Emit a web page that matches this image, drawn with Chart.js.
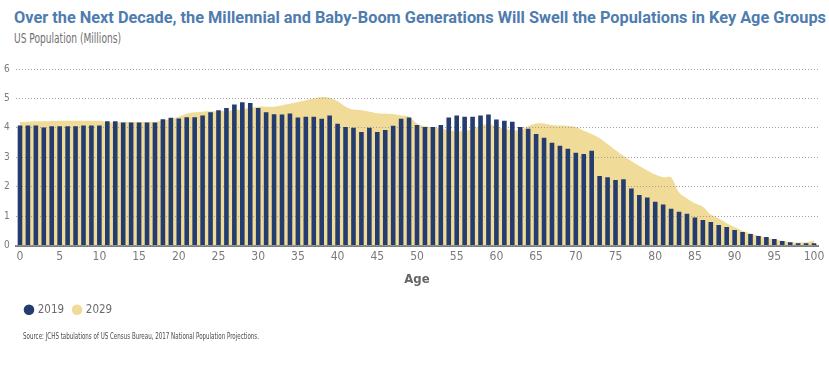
<!DOCTYPE html>
<html>
<head>
<meta charset="utf-8">
<script src="https://cdn.jsdelivr.net/npm/chart.js@4"></script>
<style>
html,body{margin:0;padding:0;background:#fff;width:829px;height:371px;overflow:hidden;}
.t{position:absolute;white-space:nowrap;line-height:1;transform-origin:0 0;}
#title{left:14px;top:9px;font-family:Roboto,"Open Sans",sans-serif;font-weight:700;font-size:17px;color:#4f7caf;}
#sub{left:14px;top:31px;font-family:"Liberation Sans Narrow","DejaVu Sans Condensed",Roboto,sans-serif;font-size:14px;color:#707070;}
#src{left:23px;top:332px;font-family:"Liberation Sans Narrow","DejaVu Sans Condensed",Roboto,sans-serif;font-size:8.5px;color:#4a4a4a;}
#c{position:absolute;left:0;top:0;}
</style>
</head>
<body>
<div id="title" class="t" data-w="812">Over the Next Decade, the Millennial and Baby-Boom Generations Will Swell the Populations in Key Age Groups</div>
<div id="sub" class="t" data-w="107">US Population (Millions)</div>
<canvas id="c" width="829" height="371"></canvas>
<div id="src" class="t" data-w="236">Source: JCHS tabulations of US Census Bureau, 2017 National Population Projections.</div>
<script>
// ---- data ----
const ages = [0,1,2,3,4,5,6,7,8,9,10,11,12,13,14,15,16,17,18,19,20,21,22,23,24,25,26,27,28,29,30,31,32,33,34,35,36,37,38,39,40,41,42,43,44,45,46,47,48,49,50,51,52,53,54,55,56,57,58,59,60,61,62,63,64,65,66,67,68,69,70,71,72,73,74,75,76,77,78,79,80,81,82,83,84,85,86,87,88,89,90,91,92,93,94,95,96,97,98,99,100];
const xTickLabels = [0,5,10,15,20,25,30,35,40,45,50,55,60,65,70,75,80,85,90,95,100];
const yTicks = [0,1,2,3,4,5,6];
const pop2019 = [4.08,4.08,4.08,4.01,4.05,4.05,4.05,4.05,4.08,4.08,4.08,4.22,4.22,4.18,4.18,4.18,4.18,4.18,4.29,4.34,
  4.32,4.36,4.36,4.42,4.53,4.60,4.67,4.79,4.87,4.84,4.67,4.53,4.46,4.45,4.49,4.35,4.38,4.38,4.31,4.42,
  4.14,4.03,4.00,3.86,4.00,3.86,3.93,4.07,4.31,4.35,4.10,4.03,4.03,4.10,4.35,4.42,4.38,4.38,4.42,4.45,
  4.28,4.24,4.21,4.03,3.97,3.79,3.66,3.49,3.39,3.29,3.15,3.11,3.22,2.36,2.32,2.23,2.25,1.94,1.72,1.63,
  1.49,1.39,1.25,1.15,1.08,0.95,0.87,0.80,0.70,0.63,0.53,0.46,0.39,0.32,0.29,0.22,0.15,0.11,0.08,0.08,0.08];
const pop2029 = [4.20,4.21,4.22,4.22,4.23,4.24,4.24,4.24,4.24,4.24,4.24,4.19,4.18,4.20,4.20,4.20,4.20,4.20,4.25,4.30,
  4.38,4.48,4.53,4.55,4.56,4.56,4.58,4.60,4.63,4.68,4.72,4.72,4.72,4.77,4.82,4.88,4.94,5.00,5.05,5.02,
  4.90,4.72,4.62,4.60,4.55,4.50,4.48,4.47,4.42,4.38,4.15,4.05,4.02,3.97,3.93,3.88,3.90,3.95,4.07,4.13,
  4.05,3.97,3.92,3.92,4.06,4.15,4.15,4.10,4.08,4.07,4.03,3.90,3.79,3.65,3.45,3.24,3.05,2.87,2.70,2.55,
  2.41,2.32,2.32,1.80,1.60,1.44,1.32,1.05,0.92,0.76,0.63,0.50,0.41,0.33,0.26,0.21,0.16,0.12,0.10,0.11,0.17];
const seriesNames = ['2019','2029'];

// ---- style ----
const NAVY = '#253c6f';
const GOLD = '#f1db98';
const NARROW = '"Liberation Sans Narrow","DejaVu Sans Condensed",Roboto,sans-serif';

// fit HTML text widths
document.querySelectorAll('.t').forEach(el => {
  const w = el.getBoundingClientRect().width;
  const target = +el.dataset.w;
  if (w > 0) el.style.transform = 'scaleX(' + (target / w) + ')';
});

const gridAbove = {
  id: 'gridAbove',
  beforeDatasetDraw(chart, args) {
    if (args.index === 0) {
      chart.scales.y.drawGrid(chart.chartArea);
    }
  }
};

new Chart(document.getElementById('c'), {
  data: {
    labels: ages,
    datasets: [
      { type: 'bar', label: seriesNames[0], data: pop2019, backgroundColor: NAVY, borderWidth: 0,
        barPercentage: 0.58, categoryPercentage: 1, order: 1, pointStyle: 'circle' },
      { type: 'line', label: seriesNames[1], data: pop2029, backgroundColor: GOLD, borderColor: GOLD,
        borderWidth: 0, pointRadius: 0, fill: 'origin', tension: 0.3, order: 2, pointStyle: 'circle' }
    ]
  },
  options: {
    responsive: false,
    animation: false,
    devicePixelRatio: 1,
    layout: { padding: { left: 16, right: 11, top: 69, bottom: 45.5 } },
    plugins: {
      legend: {
        position: 'bottom', align: 'start',
        labels: { usePointStyle: true, pointStyle: 'circle', boxWidth: 6, boxHeight: 7.5, padding: 10,
          color: '#6b6b6b', font: { family: NARROW, size: 11.5 } }
      },
      tooltip: { enabled: false }
    },
    scales: {
      x: {
        type: 'category', offset: true, z: 1,
        grid: { display: false, drawTicks: false },
        border: { display: true, color: '#7f7f7f', width: 2 },
        ticks: { autoSkip: false, maxRotation: 0, minRotation: 0, padding: 4, color: '#7a7a7a',
          font: { family: NARROW, size: 12 },
          callback: (v, i) => xTickLabels.includes(ages[i]) ? String(ages[i]) : '' },
        title: { display: true, text: 'Age', color: '#666666',
          font: { family: NARROW, size: 13, weight: 'bold' }, padding: { top: 3.5, bottom: 7 } }
      },
      y: {
        min: yTicks[0], max: yTicks[yTicks.length - 1],
        afterFit: s => { s.width = 0; },
        afterBuildTicks: s => { s.ticks = yTicks.map(v => ({ value: v })); },
        grid: { color: '#a0a0a0', lineWidth: 1, drawTicks: false },
        border: { display: false, dash: [1, 2] },
        ticks: { mirror: true, padding: -12, color: '#7a7a7a', font: { family: NARROW, size: 10 } }
      }
    }
  },
  plugins: [gridAbove]
});
</script>
</body>
</html>
